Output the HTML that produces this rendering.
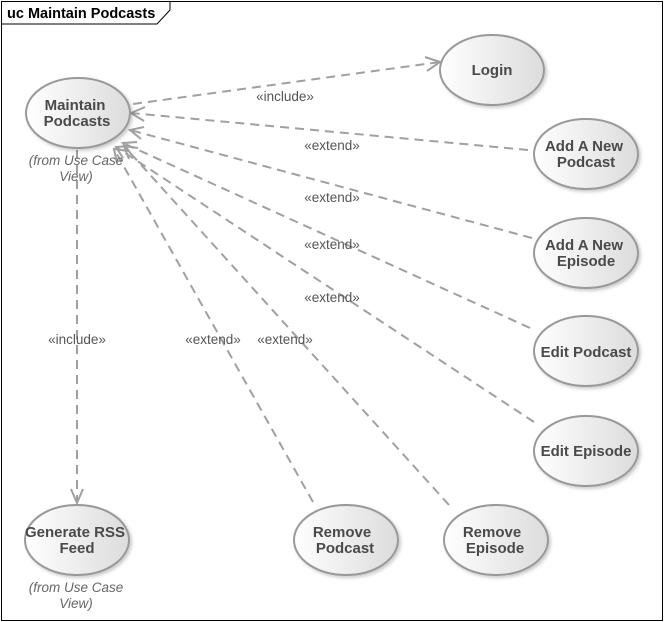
<!DOCTYPE html>
<html><head><meta charset="utf-8"><style>
html,body{margin:0;padding:0;background:#fff}
svg{display:block}
text{font-family:"Liberation Sans",Arial,sans-serif}
.b{font-weight:bold;font-size:15px;fill:#4a4a4a;text-anchor:middle}
.l{font-size:13.5px;fill:#555;text-anchor:middle}
.i{font-size:13.5px;fill:#666;font-style:italic;text-anchor:middle}
</style></head><body>
<svg width="664" height="622" viewBox="0 0 664 622">
<defs>
<linearGradient id="g" x1="0" y1="0" x2="1" y2="0">
<stop offset="0" stop-color="#ffffff"/><stop offset="1" stop-color="#dcdcdc"/></linearGradient>
<filter id="s" x="-20%" y="-20%" width="150%" height="150%"><feDropShadow dx="2" dy="2" stdDeviation="1.5" flood-color="#000" flood-opacity="0.2"/></filter>
</defs>
<rect x="1.5" y="1.5" width="661" height="619" fill="#fff" stroke="#000" stroke-width="1"/>
<path d="M1.5 1.5 H170 V10 L157 24 H1.5 Z" fill="#fff" stroke="#000" stroke-width="1"/>
<text x="7" y="18" style="font-weight:bold;font-size:14.5px;fill:#000">uc Maintain Podcasts</text>

<g stroke="#a0a0a0" stroke-width="2" fill="none" stroke-dasharray="9,6">
<line x1="133" y1="104" x2="440" y2="62"/>
<line x1="528" y1="150" x2="131" y2="113"/>
<line x1="532" y1="238" x2="130" y2="130"/>
<line x1="530" y1="328" x2="123" y2="143"/>
<line x1="534" y1="422" x2="116" y2="147"/>
<line x1="313" y1="502" x2="114" y2="149"/>
<line x1="449" y1="505" x2="124" y2="146"/>
<line x1="77" y1="150" x2="77" y2="503"/>
</g>
<g stroke="#a0a0a0" stroke-width="2" fill="none">
<path d="M425 57 L440 62 L427 71"/>
<path d="M145 107 L131 113 L144 121"/>
<path d="M144 127 L130 130 L141 139"/>
<path d="M137 142 L123 143 L131 154"/>
<path d="M130 146 L116 147 L123 158"/>
<path d="M128 151 L114 149 L117 163"/>
<path d="M138 148 L124 146 L129 159"/>
<path d="M71 489 L77 503 L83 489"/>
</g>

<g stroke="#999" stroke-width="2" fill="url(#g)" filter="url(#s)">
<ellipse cx="78" cy="113" rx="52" ry="35"/>
<ellipse cx="492" cy="70" rx="52" ry="35"/>
<ellipse cx="586" cy="154" rx="52" ry="35"/>
<ellipse cx="586" cy="253" rx="52" ry="35"/>
<ellipse cx="586" cy="351" rx="52" ry="35"/>
<ellipse cx="586" cy="451" rx="52" ry="35"/>
<ellipse cx="77" cy="540" rx="52" ry="35"/>
<ellipse cx="346" cy="540" rx="52" ry="35"/>
<ellipse cx="496" cy="540" rx="52" ry="35"/>
</g>

<text class="b" x="75" y="110">Maintain</text>
<text class="b" x="77" y="126">Podcasts</text>
<text class="i" x="76" y="165">(from Use Case</text>
<text class="i" x="76" y="181">View)</text>
<text class="b" x="492" y="75">Login</text>
<text class="b" x="584" y="151">Add A New</text>
<text class="b" x="586" y="167">Podcast</text>
<text class="b" x="584" y="250">Add A New</text>
<text class="b" x="586" y="266">Episode</text>
<text class="b" x="586" y="357">Edit Podcast</text>
<text class="b" x="586" y="456">Edit Episode</text>
<text class="b" x="75" y="537">Generate RSS</text>
<text class="b" x="77" y="553">Feed</text>
<text class="i" x="76" y="592">(from Use Case</text>
<text class="i" x="76" y="608">View)</text>
<text class="b" x="342" y="537">Remove</text>
<text class="b" x="345" y="553">Podcast</text>
<text class="b" x="492" y="537">Remove</text>
<text class="b" x="495" y="553">Episode</text>

<text class="l" x="285" y="101">«include»</text>
<text class="l" x="332" y="150">«extend»</text>
<text class="l" x="332" y="202">«extend»</text>
<text class="l" x="332" y="249">«extend»</text>
<text class="l" x="332" y="302">«extend»</text>
<text class="l" x="77" y="344">«include»</text>
<text class="l" x="213" y="344">«extend»</text>
<text class="l" x="285" y="344">«extend»</text>
</svg>
</body></html>
